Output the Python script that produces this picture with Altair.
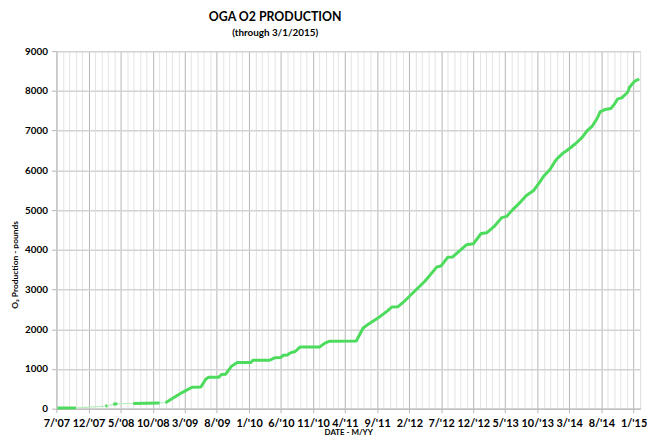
import altair as alt
import pandas as pd

# ---- data ----
dates = [
    "2007-07-06", "2007-10-02",
    "2008-02-19", "2008-02-28",
    "2008-03-27", "2008-04-15",
    "2008-06-30", "2008-11-02",
    "2008-11-30", "2009-02-17", "2009-04-05", "2009-05-17", "2009-06-09", "2009-06-23",
    "2009-08-09", "2009-08-23", "2009-09-11", "2009-10-09", "2009-11-06", "2010-01-10",
    "2010-01-19", "2010-04-09", "2010-05-02", "2010-05-30", "2010-06-13", "2010-07-02",
    "2010-07-16", "2010-08-08", "2010-09-01", "2010-12-03", "2010-12-27", "2011-01-19",
    "2011-05-25", "2011-06-27", "2011-07-25", "2011-09-05", "2011-10-22", "2011-11-10",
    "2011-12-08", "2012-01-04", "2012-02-20", "2012-04-16", "2012-06-11", "2012-06-30",
    "2012-08-01", "2012-08-25", "2012-10-29", "2012-12-01", "2013-01-07", "2013-02-04",
    "2013-03-09", "2013-04-15", "2013-05-08", "2013-06-10", "2013-07-17", "2013-08-10",
    "2013-09-12", "2013-10-15", "2013-10-29", "2013-12-01", "2013-12-24", "2014-01-07",
    "2014-01-31", "2014-02-14", "2014-03-31", "2014-05-03", "2014-05-26", "2014-06-19",
    "2014-07-12", "2014-07-26", "2014-08-18", "2014-09-15", "2014-10-04", "2014-10-18",
    "2014-11-06", "2014-12-04", "2014-12-13", "2015-01-05", "2015-01-28",
]
production = [
    15, 20,
    65, 75,
    110, 125,
    130, 145,
    150, 405, 540, 545, 740, 790,
    790, 860, 865, 1065, 1165, 1165,
    1220, 1220, 1280, 1285, 1345, 1350,
    1405, 1440, 1555, 1555, 1650, 1700,
    1705, 2030, 2140, 2280, 2470, 2560,
    2565, 2680, 2925, 3215, 3570, 3590,
    3810, 3820, 4125, 4150, 4410, 4430,
    4580, 4810, 4840, 5030, 5225, 5365,
    5485, 5720, 5840, 6025, 6230, 6315,
    6435, 6480, 6670, 6835, 7000, 7115,
    7305, 7470, 7530, 7555, 7680, 7800,
    7825, 7965, 8090, 8240, 8300,
]
segment = [1, 1, 2, 2, 3, 3, 4, 4] + [5] * (len(dates) - 8)

y_ticks = [0, 1000, 2000, 3000, 4000, 5000, 6000, 7000, 8000, 9000]

df = pd.DataFrame({
    "date": pd.to_datetime(dates),
    "value": production,
    "seg": segment,
    "order": list(range(len(dates))),
})

# monthly grid positions from 7/07 through 2/15
months = []
yy, mm = 2007, 7
while (yy, mm) <= (2015, 2):
    months.append(alt.DateTime(year=yy, month=mm, date=1))
    mm += 1
    if mm > 12:
        mm = 1
        yy += 1

major_test = "(month(datum.value) + 12 * year(datum.value) - 24090) % 5 === 0"
FONT = "Lato"

x_enc = alt.X(
    "date:T",
    scale=alt.Scale(domain=[alt.DateTime(year=2007, month=7, date=1),
                            alt.DateTime(year=2015, month=2, date=1)]),
    axis=alt.Axis(
        values=months,
        format="%-m/'%y",
        formatType="time",
        labelExpr=f"{major_test} ? datum.label : ''",
        labelOverlap=False,
        labelFlush=False,
        labelFont=FONT,
        labelFontSize=11,
        labelFontWeight="bold",
        labelColor="black",
        labelPadding=5,
        grid=True,
        gridColor={"condition": {"test": major_test, "value": "#b5b5b5"}, "value": "#e3e3e3"},
        tickColor={"condition": {"test": major_test, "value": "#b5b5b5"}, "value": "transparent"},
        tickSize=4,
        domainColor="#b5b5b5",
        title="DATE - M/YY",
        titleFont=FONT,
        titleFontSize=8,
        titleFontWeight="bold",
        titleColor="black",
        titleY=24,
        titleBaseline="middle",
    ),
)

y_enc = alt.Y(
    "value:Q",
    scale=alt.Scale(domain=[0, 9000], nice=False),
    axis=alt.Axis(
        values=y_ticks,
        format="d",
        labelFont=FONT,
        labelFontSize=10,
        labelFontWeight="bold",
        labelColor="black",
        labelPadding=4,
        tickSize=5,
        tickColor="#b5b5b5",
        domainColor="#c8c8c8",
        gridColor="#d3d3d3",
        gridWidth=1.5,
        title="O₂ Production - pounds",
        titleFont=FONT,
        titleFontSize=8.5,
        titleFontWeight="bold",
        titleColor="black",
        titlePadding=5,
        titleAnchor="middle",
        titleY=216,
    ),
)

thin = alt.Chart(df).mark_line(color="#b8efbf", strokeWidth=1.2).encode(
    x=x_enc, y=y_enc, order="order:Q"
)
thick = alt.Chart(df).mark_line(color="#4cdb5c", strokeWidth=3, strokeJoin="round").encode(
    x=x_enc, y=y_enc, detail="seg:N", order="order:Q"
)

chart = alt.layer(thin, thick).properties(
    width=647,
    height=431,
    autosize=alt.AutoSizeParams(type="fit", contains="padding"),
    padding={"left": 2, "top": 0, "right": 0, "bottom": 0},
    title=alt.TitleParams(
        text="OGA O2 PRODUCTION",
        subtitle="(through 3/1/2015)",
        font=FONT,
        fontSize=12.5,
        fontWeight="bold",
        color="black",
        subtitleFont=FONT,
        subtitleFontSize=10,
        subtitleFontWeight="bold",
        subtitleColor="black",
        subtitlePadding=5,
        anchor="middle",
        dx=-74,
        offset=8,
    ),
).configure_view(stroke="#b5b5b5", strokeWidth=1).configure(background="white")

chart.save("out.html", embed_options={"renderer": "svg", "actions": False})
